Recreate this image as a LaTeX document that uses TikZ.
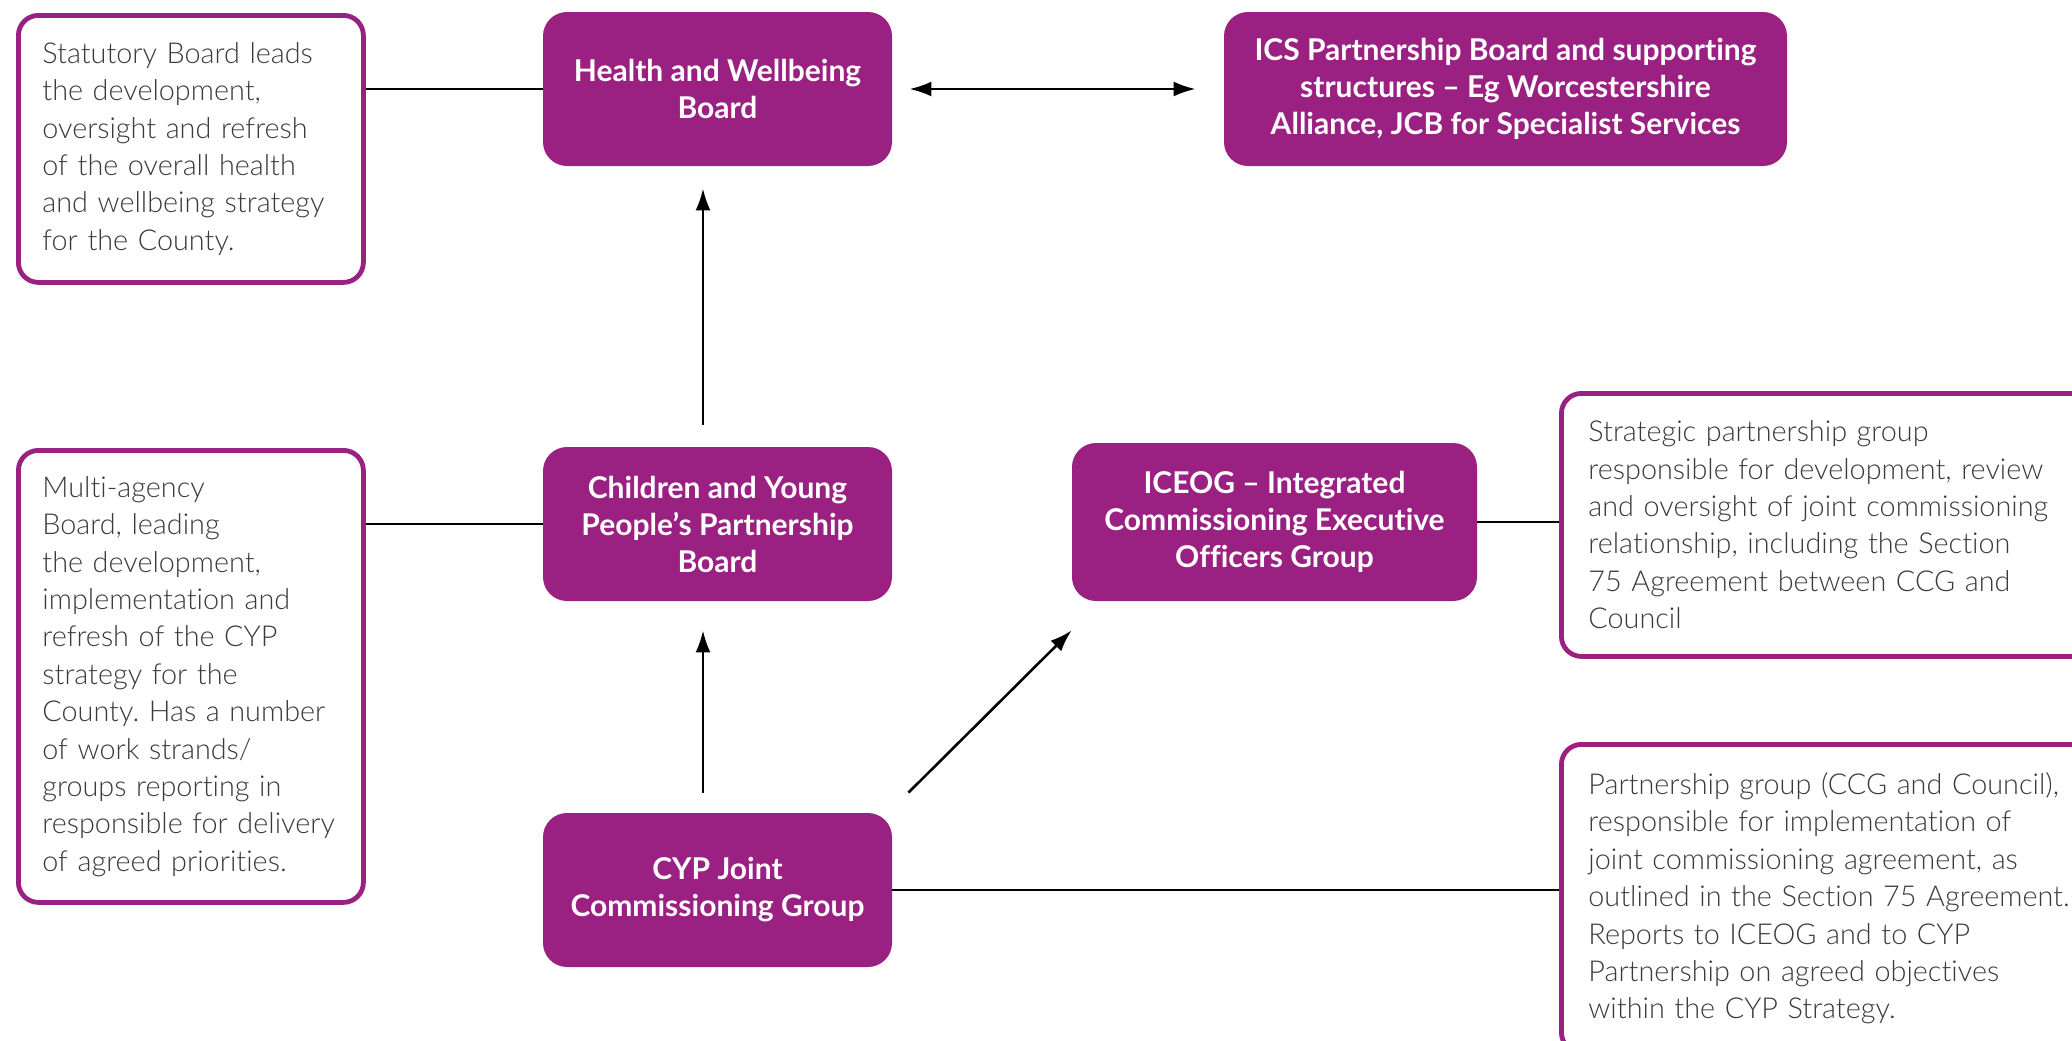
\documentclass[tikz,border=0pt]{standalone}
\usepackage{fontspec}
\setmainfont{Lato}[Ligatures=NoCommon]
\newfontfamily\lightfont{Lato Light}[Ligatures=NoCommon, WordSpace=0.8]
\usetikzlibrary{arrows.meta}
\definecolor{cpurple}{HTML}{9A2182}
\definecolor{ctext}{HTML}{3A3A3A}
\begin{document}
\hyphenpenalty=10000
\exhyphenpenalty=10000
\frenchspacing
\begin{tikzpicture}[x=0.5pt,y=-0.5pt,
 pbox/.style={fill=cpurple, rounded corners=12pt, text=white,
   font=\bfseries\fontsize{15}{18.5}\selectfont, align=center, inner sep=0pt,
   minimum width=174.5pt, minimum height=77pt},
 obox/.style={draw=cpurple, line width=2.4pt, fill=white, rounded corners=10pt,
   text=ctext, font=\lightfont\fontsize{14.4}{18.7}\selectfont, align=left,
   inner xsep=12pt, inner ysep=0pt, anchor=north west},
 conn/.style={line width=1.3pt, draw=black},
 arr/.style={conn, -{Latex[length=11pt,width=7.5pt]}}]

\path[use as bounding box] (0,0) rectangle (2072,1040);

% purple boxes
\node[pbox] (hwb) at (717.5,89) {Health and Wellbeing\\Board};
\node[pbox, minimum width=281.5pt] (ics) at (1505.5,89) {ICS Partnership Board and supporting\\structures -- Eg Worcestershire\\Alliance, JCB for Specialist Services};
\node[pbox] (cyppb) at (717.5,524) {Children and Young\\People’s Partnership\\Board};
\node[pbox, minimum width=202.5pt, minimum height=79pt] (iceog) at (1274.5,522) {ICEOG -- Integrated\\Commissioning Executive\\Officers Group};
\node[pbox] (cypjcg) at (717.5,890) {CYP Joint\\Commissioning Group};

% outline boxes
\node[obox, text width=148.5pt, minimum height=133.5pt] (stat) at (16,13)
 {Statutory Board leads\\the development,\\oversight and refresh\\of the overall health\\and wellbeing strategy\\for the County.};
\node[obox, text width=148.5pt, minimum height=226pt] (multi) at (16,448)
 {Multi-agency\\Board, leading\\the development,\\implementation and\\refresh of the CYP\\strategy for the\\County. Has a number\\of work strands/\\groups reporting in\\responsible for delivery\\of agreed priorities.};
\node[obox, text width=250pt, inner xsep=13.5pt, minimum height=131.5pt] (strat) at (1559,391)
 {Strategic partnership group\\responsible for development, review\\and oversight of joint commissioning\\relationship, including the Section\\75 Agreement between CCG and\\Council};
\node[obox, text width=250pt, inner xsep=13.5pt, minimum height=154pt] (partner) at (1559,742)
 {Partnership group (CCG and Council),\\responsible for implementation of\\joint commissioning agreement, as\\outlined in the Section 75 Agreement.\\Reports to ICEOG and to CYP\\Partnership on agreed objectives\\within the CYP Strategy.};

% connectors
\draw[conn] (stat.east |- hwb.west) -- (hwb.west);
\draw[conn] (multi.east |- cyppb.west) -- (cyppb.west);
\draw[conn] (iceog.east) -- (iceog.east -| strat.west);
\draw[conn] (cypjcg.east) -- (cypjcg.east -| partner.west);
\draw[conn, {Latex[length=11pt,width=7.5pt]}-{Latex[length=11pt,width=7.5pt]}, shorten <=8.5pt, shorten >=14pt] (hwb.east) -- (ics.west);
\draw[arr, shorten <=10pt, shorten >=14.5pt] ([xshift=-7.25pt]cypjcg.north) -- ([xshift=-7.25pt]cyppb.south);
\draw[arr, shorten <=11pt, shorten >=11pt] ([xshift=-7.25pt]cyppb.north) -- ([xshift=-7.25pt]hwb.south);
\draw[arr] ([shift={(8pt,10pt)}]cypjcg.north east) -- ([yshift=-14.5pt]iceog.south west);
\end{tikzpicture}
\end{document}
